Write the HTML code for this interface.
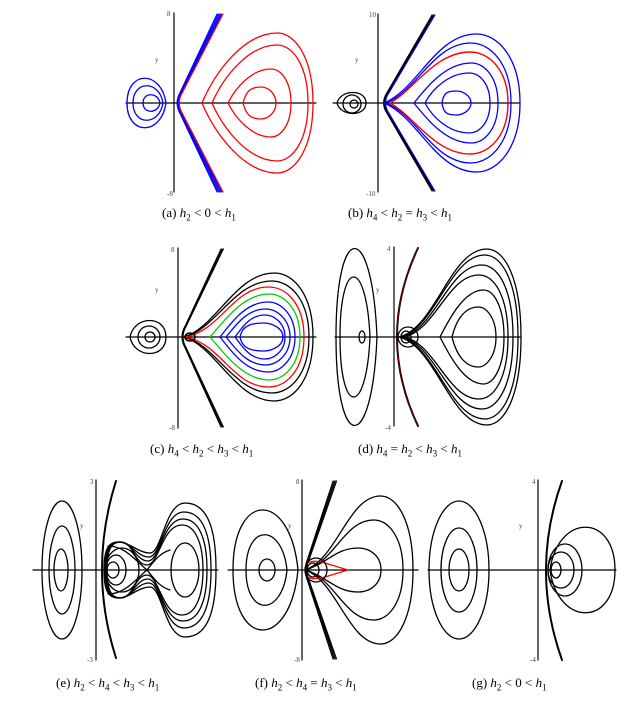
<!DOCTYPE html>
<html><head><meta charset="utf-8">
<style>
html,body{margin:0;padding:0;background:#fff;width:635px;height:706px;overflow:hidden}
svg{position:absolute;left:0;top:0}
.cap{position:absolute;font-family:"Liberation Serif",serif;font-size:13px;color:#000;white-space:nowrap}
</style></head><body>
<svg id="s" width="635" height="706" viewBox="0 0 635 706" fill="none" stroke-linecap="round">
<g font-family="Liberation Serif,serif" font-size="7" fill="#444" stroke="none">
<text x="155" y="62">y</text><text x="355" y="62">y</text><text x="155" y="292">y</text><text x="376" y="292">y</text>
<text x="80" y="528">y</text><text x="288" y="528">y</text><text x="519" y="528">y</text>
<text x="167" y="16">8</text><text x="167" y="196">-8</text><text x="369" y="17">10</text><text x="366" y="196">-10</text>
<text x="171" y="252">8</text><text x="169" y="430">-8</text><text x="387" y="251">4</text><text x="385" y="430">-4</text>
<text x="90" y="484">3</text><text x="87" y="662">-3</text><text x="296" y="484">8</text><text x="294" y="662">-8</text>
<text x="532" y="484">4</text><text x="530" y="662">-4</text>
</g>
<g id="g"></g>
</svg>
<div class="cap" style="left:162px;top:205px">(a) <i>h</i><sub style="font-size:9px">2</sub> &lt; 0 &lt; <i>h</i><sub style="font-size:9px">1</sub></div>
<div class="cap" style="left:348px;top:205px">(b) <i>h</i><sub style="font-size:9px">4</sub> &lt; <i>h</i><sub style="font-size:9px">2</sub> = <i>h</i><sub style="font-size:9px">3</sub> &lt; <i>h</i><sub style="font-size:9px">1</sub></div>
<div class="cap" style="left:150px;top:441px">(c) <i>h</i><sub style="font-size:9px">4</sub> &lt; <i>h</i><sub style="font-size:9px">2</sub> &lt; <i>h</i><sub style="font-size:9px">3</sub> &lt; <i>h</i><sub style="font-size:9px">1</sub></div>
<div class="cap" style="left:358px;top:441px">(d) <i>h</i><sub style="font-size:9px">4</sub> = <i>h</i><sub style="font-size:9px">2</sub> &lt; <i>h</i><sub style="font-size:9px">3</sub> &lt; <i>h</i><sub style="font-size:9px">1</sub></div>
<div class="cap" style="left:56px;top:675px">(e) <i>h</i><sub style="font-size:9px">2</sub> &lt; <i>h</i><sub style="font-size:9px">4</sub> &lt; <i>h</i><sub style="font-size:9px">3</sub> &lt; <i>h</i><sub style="font-size:9px">1</sub></div>
<div class="cap" style="left:255px;top:675px">(f) <i>h</i><sub style="font-size:9px">2</sub> &lt; <i>h</i><sub style="font-size:9px">4</sub> = <i>h</i><sub style="font-size:9px">3</sub> &lt; <i>h</i><sub style="font-size:9px">1</sub></div>
<div class="cap" style="left:472px;top:675px">(g) <i>h</i><sub style="font-size:9px">2</sub> &lt; 0 &lt; <i>h</i><sub style="font-size:9px">1</sub></div>
<script>
var g=document.getElementById('g'),o='';
function P(d,c,w){o+='<path d="'+d+'" stroke="'+(c||'#000')+'" stroke-width="'+(w||1.3)+'"/>';}
function half(L,R,cy,h,k1,k2,px,s){var w=R-L,p=L+px*w;
 return 'M'+L+','+cy+' C'+(L+k1*w)+','+(cy-s*k2*h)+' '+(p-0.3*w)+','+(cy-s*h)+' '+p+','+(cy-s*h)+' C'+(p+0.18*(R-p)+0.1*w)+','+(cy-s*h)+' '+R+','+(cy-s*0.65*h)+' '+R+','+cy;}
function tear(L,R,cy,h,c,w,k1,k2,px){k1=k1==null?0.15:k1;k2=k2==null?0.4:k2;px=px||0.68;
 P(half(L,R,cy,h,k1,k2,px,1)+' '+half(L,R,cy,h,k1,k2,px,-1),c,w);}
function egg(L,R,cy,h,c,w){var a=L+(R-L)*0.12;P('M'+L+','+cy+' C'+a+','+(cy-h)+' '+R+','+(cy-h)+' '+R+','+cy+' C'+R+','+(cy+h)+' '+a+','+(cy+h)+' '+L+','+cy,c,w);}
function regg(L,R,cy,h,c,w){var a=R-(R-L)*0.12;P('M'+R+','+cy+' C'+a+','+(cy-h)+' '+L+','+(cy-h)+' '+L+','+cy+' C'+L+','+(cy+h)+' '+a+','+(cy+h)+' '+R+','+cy,c,w);}
function ell(cx,cy,rx,ry,c,w){o+='<ellipse cx="'+cx+'" cy="'+cy+'" rx="'+rx+'" ry="'+ry+'" stroke="'+(c||'#000')+'" stroke-width="'+(w||1.3)+'"/>';}
function hyp(x0,cy,x1,t,b,c,w){var f=0.12;var xa=x0+f*(x1-x0),ya=(cy-t)*f;
 P('M'+x1+','+t+' L'+xa+','+(cy-ya)+' Q'+(x0-1)+','+cy+' '+xa+','+(cy+ya)+' L'+x1+','+b,c,w);}
function hypq(x0,cy,x1,t,b,c,w){P('M'+x1+','+t+' Q'+(2*x0-x1)+','+cy+' '+x1+','+b,c,w);}
function ax(x,y,t,b,l,r){P('M'+l+','+y+' H'+r,'#000',1.2);P('M'+x+','+t+' V'+b,'#000',1.2);}
// (a)
ax(174,103,13,192,126,316);
regg(127,166,103,33,'#00f');regg(133,163,103,23,'#00f');regg(143,160,103,11,'#00f');
for(var i=0;i<5;i++)hyp(175+i*0.5,103,217+i*1.2,14,192,'#00f',1);
hyp(177,103,223,14,192,'#f00',1.2);
tear(202,313,103,70,'#f00',1.3,0.12,0.45);tear(212,308,103,58,'#f00',1.3,0.12,0.45);tear(228,291,103,34,'#f00',1.3,0.12,0.45);tear(243,276,103,16,'#f00',1.3,0.1,0.8,0.55);
// (b)
ax(378,103,14,192,333,520);
egg(337,366,103,14);ell(352,104,9,9);ell(354,104,4,4);
for(i=0;i<3;i++)hyp(381+i*0.5,103,432+i*1.2,15,191,'#000',1.1);
hyp(383,103,435,15,191,'#00f',1);
tear(384,520,103,69,'#00f',1.3,0.25,0.2);tear(386,511,103,60,'#00f',1.3,0.25,0.2);tear(390,508,103,51,'#f00',1.4,0.2,0.25);tear(414,498,103,40,'#00f',1.3,0.15,0.4);tear(425,490,103,30,'#00f',1.3,0.12,0.5);tear(442,471,103,12,'#00f',1.3,0.05,0.9,0.5);
// (c)
ax(178,337,248,428,126,316);
egg(130,166,337,22);ell(149,337,11,11);ell(150,337,5,5);
for(i=0;i<3;i++)hyp(180+i*0.5,337,221+i*1.2,249,427,'#000',1.1);
tear(184,313,337,64,'#000',1.3,0.25,0.15,0.7);tear(185,309,337,56,'#000',1.3,0.25,0.15,0.7);tear(186,304,337,50,'#f00',1.3,0.3,0.15,0.7);
tear(210,300,337,43,'#0c0',1.3,0.15,0.35,0.66);tear(220,295,337,35,'#00f',1.3,0.15,0.4,0.64);tear(226,290,337,28,'#00f',1.3,0.15,0.4,0.62);tear(235,285,337,22,'#00f',1.3,0.15,0.45,0.6);tear(240,283,337,14,'#00f',1.3,0.05,0.8,0.55);
ell(190,337,5,4,'#000',1.6);
// (d)
ax(394,337,247,426,335,521);
regg(336,377,337,118);regg(340,370,337,80);ell(362,337,3,6);
hypq(397,337,418,248,426,'#000',2);hypq(397,337,418,248,426,'#8b0000',0.8);
tear(399,521,337,88,'#000',1.3,0.3,0.1,0.72);tear(400,518,337,82,'#000',1.3,0.3,0.1,0.72);tear(402,513,337,72,'#000',1.3,0.3,0.1,0.72);tear(404,508,337,62,'#000',1.3,0.3,0.1,0.72);
tear(440,504,337,47);tear(452,496,337,30,'#000',1.3,0.1,0.6,0.6);
ell(408,337,10,10);ell(406,337,5,6);
// (e)
ax(96,570,480,660,33,218);
ell(62,570,20,69);ell(62,570,13,44);ell(61,570,7,21);
hypq(102,570,116,481,658,'#000',2);
function dumb(L,R,nh,h,nx){var s,d='';for(s=1;s>=-1;s-=2){var Y=function(v){return 570-s*v;};
 d+='M'+L+',570 C'+L+','+Y(20)+' '+(L+4)+','+Y(28)+' '+(L+14)+','+Y(28)+' C'+(L+26)+','+Y(28)+' '+(nx-12)+','+Y(nh)+' '+nx+','+Y(nh)+' C'+(nx+12)+','+Y(nh)+' '+(nx+15)+','+Y(h)+' '+(nx+35)+','+Y(h)+' C'+(R-8)+','+Y(h)+' '+R+','+Y(h*0.6)+' '+R+',570 ';}
 P(d);}
dumb(104,216,17,67,150);dumb(105,211,13,58,149);dumb(106,207,9,51,148);dumb(107,203,5,45,147);
P('M108,546 C125,546 135,560 147,570 C135,580 125,594 108,594');
P('M147,570 C155,560 160,553 170,550');P('M147,570 C155,580 160,587 170,590');
ell(122,570,17,22);ell(116,570,10,15);ell(113,570,6,8);
ell(185,570,14,27);
// (f)
ax(302,570,480,660,228,418);
regg(233,298,570,80);regg(246,287,570,47);ell(267,570,8,11);
for(i=0;i<4;i++)hyp(304+i*0.5,570,333+i*1.2,481,659,'#000',1.1);
tear(305,413,570,74,'#000',1.3,0.3,0.15,0.7);tear(305,403,570,50,'#000',1.3,0.3,0.15,0.7);tear(305,381,570,22,'#000',1.3,0.3,0.3,0.7);
P('M305,570 C305,560 315,560 325,563 L348,570 L325,577 C315,580 305,580 305,570','#f00',1.2);
ell(316,570,11,12);ell(313,570,6,7);
// (g)
ax(538,570,480,660,428,616);
ell(459,570,30,69);ell(459,570,18,42);ell(459,570,10,21);
hypq(546,570,562,481,660,'#000',2);
egg(550,615,570,57);ell(565,570,17,26);ell(561,570,13,18);ell(556,570,5,8);
g.innerHTML=o;
</script>
</body></html>
